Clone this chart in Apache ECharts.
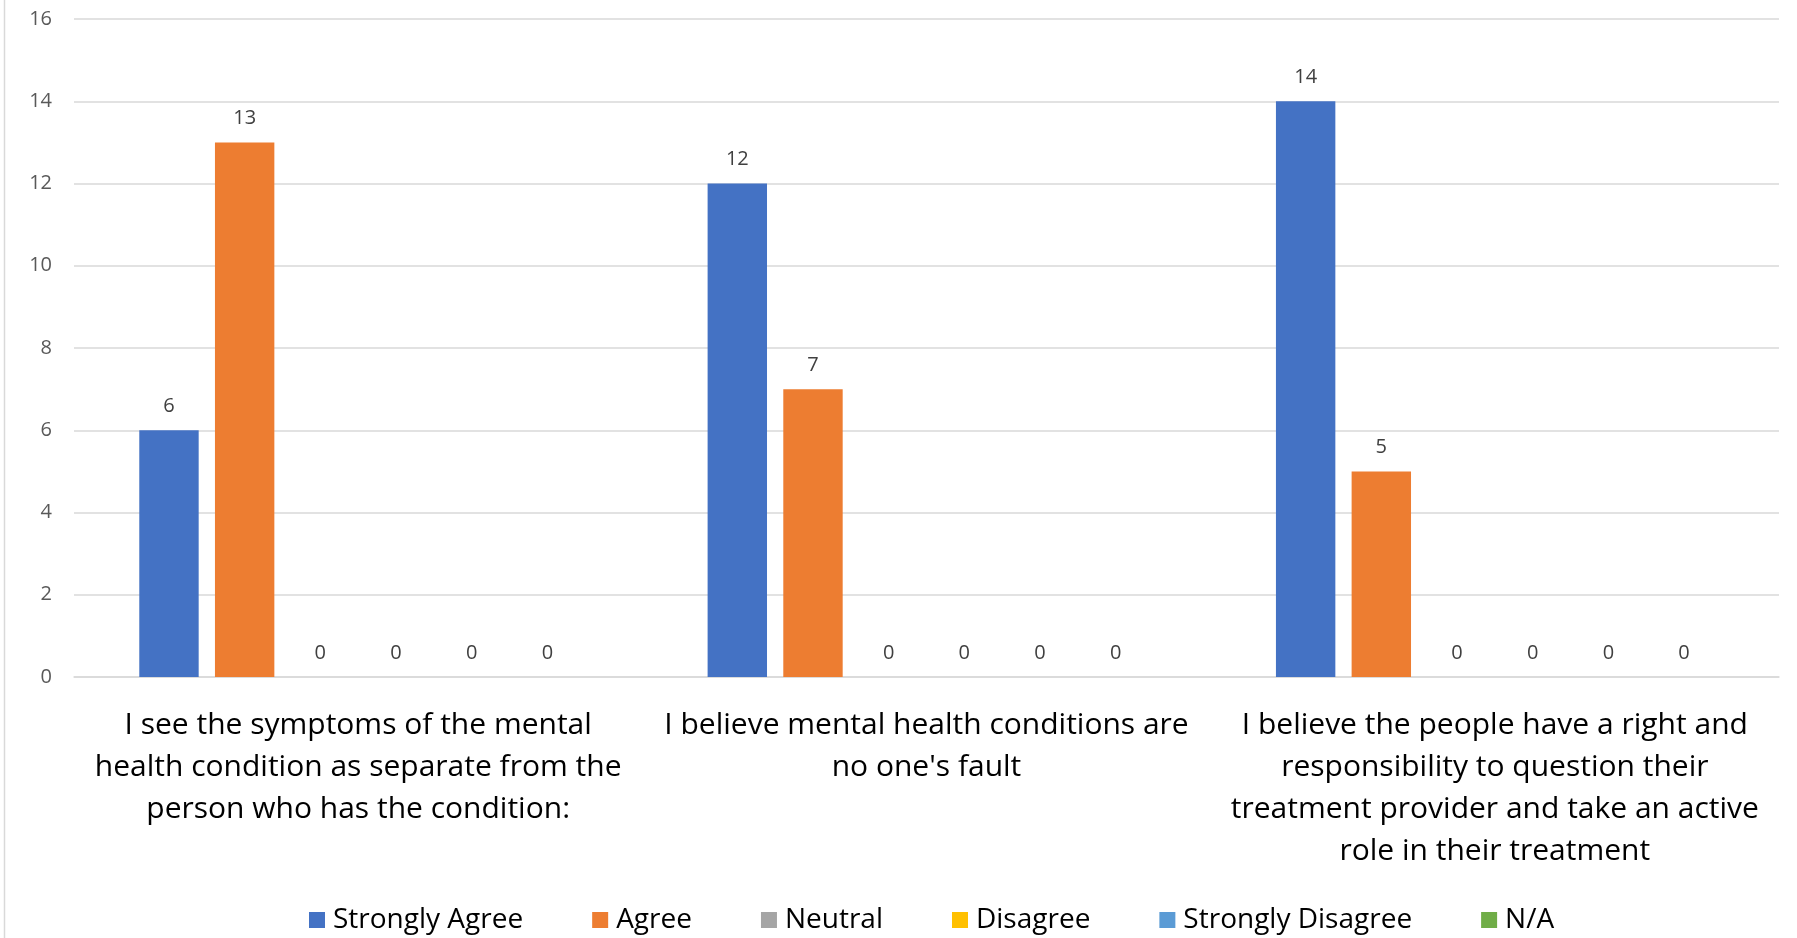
<!DOCTYPE html>
<html><head><meta charset="utf-8">
<script src="https://cdn.jsdelivr.net/npm/echarts@6/dist/echarts.min.js"></script>
<style>html,body{margin:0;padding:0;background:#fff}#c{width:1797px;height:938px}</style>
</head><body><div id="c"></div>
<script>
const categories = [
  "I see the symptoms of the mental\nhealth condition as separate from the\nperson who has the condition:",
  "I believe mental health conditions are\nno one's fault",
  "I believe the people have a right and\nresponsibility to question their\ntreatment provider and take an active\nrole in their treatment"
];
const seriesNames = ["Strongly Agree","Agree","Neutral","Disagree","Strongly Disagree","N/A"];
const stronglyAgree = [6, 12, 14];
const agree = [13, 7, 5];
const neutral = [0, 0, 0];
const disagree = [0, 0, 0];
const stronglyDisagree = [0, 0, 0];
const na = [0, 0, 0];
const yTicks = {min: 0, max: 16, interval: 2};
const colors = ["#4472C4","#ED7D31","#A5A5A5","#FFC000","#5B9BD5","#70AD47"];
const values = [stronglyAgree, agree, neutral, disagree, stronglyDisagree, na];

const font = "'Open Sans', 'Noto Sans', sans-serif";
const chart = echarts.init(document.getElementById('c'), null, {renderer:'canvas'});
chart.setOption({
  animation: false,
  color: colors,
  textStyle: {fontFamily: font},
  grid: {left: 74, right: 18, top: 19, bottom: 261, containLabel: false},
  graphic: [{type:'line', shape:{x1:4.5,y1:0,x2:4.5,y2:938}, style:{stroke:'#d9d9d9', lineWidth:1.5}}],
  legend: {
    bottom: -1, left: 304, itemWidth: 16, itemHeight: 16, itemGap: 69,
    icon: 'rect',
    textStyle: {fontSize: 28, color: '#000', fontFamily: font, padding: [0,0,0,3]},
    data: seriesNames
  },
  xAxis: {
    type: 'category', data: categories,
    axisLine: {lineStyle: {color: '#d9d9d9', width: 1.5}},
    axisTick: {show: false},
    axisLabel: {fontSize: 30, color: '#000', lineHeight: 42, margin: 27, interval: 0, fontFamily: font}
  },
  yAxis: {
    type: 'value', min: yTicks.min, max: yTicks.max, interval: yTicks.interval,
    axisLine: {show: false}, axisTick: {show: false},
    splitLine: {lineStyle: {color: '#d9d9d9', width: 1.5}},
    axisLabel: {fontSize: 20, color: '#595959', margin: 22, fontFamily: font}
  },
  series: seriesNames.map((n, i) => ({
    name: n, type: 'bar', data: values[i],
    barWidth: 59.4, barGap: '27.4%',
    label: {show: true, position: 'top', fontSize: 20, color: '#404040', distance: 14, fontFamily: font}
  }))
});
</script></body></html>
